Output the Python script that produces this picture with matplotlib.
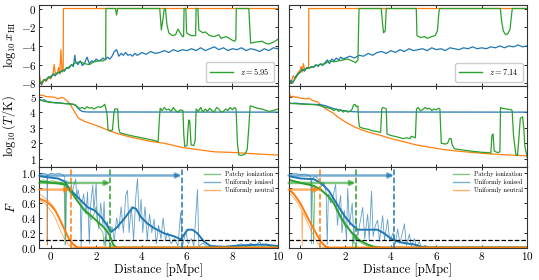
import numpy as np
import matplotlib
matplotlib.use("Agg")
import matplotlib.pyplot as plt
from matplotlib.lines import Line2D

plt.rcParams.update({
    "font.family": "serif",
    "font.serif": ["cmr10", "DejaVu Serif"],
    "mathtext.fontset": "cm",
    "axes.formatter.use_mathtext": True,
    "axes.unicode_minus": True,
})

C_PATCHY = "#2ca02c"
C_ION = "#1f77b4"
C_NEU = "#ff7f0e"

# ---------------- data: (distance [pMpc], value) ----------------
redshifts = ["5.95", "7.14"]

# log10 x_HI, left column (z = 5.95)
xhi_ion_l = [(-0.5, -7.9), (-0.4, -8.1), (-0.3, -7.6), (-0.2, -7.7), (-0.1, -7.3), (0.0, -7.4), (0.1, -7.0),
             (0.2, -7.2), (0.3, -6.8), (0.4, -6.9), (0.5, -6.6), (0.6, -6.7), (0.7, -6.3), (0.8, -6.4),
             (0.9, -6.0), (1.0, -6.2), (1.06, -5.0), (1.1, -5.7), (1.2, -6.0), (1.3, -5.6), (1.4, -6.1),
             (1.5, -5.8), (1.6, -5.2), (1.7, -5.9), (1.8, -5.6), (1.9, -5.7), (2.0, -5.4), (2.1, -5.6),
             (2.2, -5.5), (2.3, -5.3), (2.4, -5.5), (2.5, -5.2), (2.6, -5.4), (2.7, -5.1), (2.8, -4.6),
             (2.9, -4.4), (3.0, -5.1), (3.1, -4.8), (3.2, -5.0), (3.3, -4.7), (3.4, -5.0), (3.5, -4.9),
             (3.6, -5.1), (3.7, -4.8), (3.8, -5.0), (3.9, -4.9), (4.0, -4.7), (4.2, -4.9), (4.4, -4.6),
             (4.6, -4.8), (4.8, -4.7), (5.0, -4.5), (5.2, -4.7), (5.4, -4.4), (5.6, -4.6), (5.8, -4.4),
             (6.0, -4.5), (6.2, -4.3), (6.4, -4.5), (6.6, -4.2), (6.8, -4.5), (7.0, -4.3), (7.2, -4.1),
             (7.4, -4.4), (7.6, -4.2), (7.8, -4.5), (8.0, -4.3), (8.2, -4.4), (8.4, -4.2), (8.6, -4.5),
             (8.8, -4.3), (9.0, -4.4), (9.2, -4.6), (9.4, -4.3), (9.6, -4.5), (9.8, -4.2), (10.0, -4.3)]
xhi_patchy_l = [(-0.5, -8.0), (-0.3, -7.7), (-0.1, -7.4), (0.1, -7.1), (0.3, -6.9), (0.5, -6.7), (0.7, -6.4),
                (0.9, -6.1), (1.1, -5.8), (1.3, -5.7), (1.5, -5.9), (1.7, -6.0), (1.9, -5.7), (2.1, -5.6),
                (2.3, -5.6), (2.42, -5.4), (2.43, 0.0), (2.85, 0.0), (2.9, -0.7), (2.95, 0.0), (4.8, 0.0),
                (4.87, -2.3), (4.95, -1.0), (5.0, 0.0), (5.05, 0.0), (5.12, -1.8), (5.2, -2.6), (5.35, -2.9),
                (5.5, -2.8), (5.6, -2.2), (5.7, -2.6), (5.8, -3.0), (5.85, -3.0), (5.87, 0.0), (5.95, 0.0),
                (5.98, -2.6), (6.1, -2.8), (6.2, -2.9), (6.38, -2.9), (6.40, 0.0), (6.48, 0.0), (6.52, -2.3),
                (6.7, -2.6), (6.8, -2.5), (7.0, -2.9), (7.2, -3.0), (7.4, -2.8), (7.5, -3.2), (7.7, -3.0),
                (7.8, -3.1), (8.0, -3.4), (8.1, -3.5), (8.15, -3.3), (8.17, 0.0), (8.72, 0.0), (8.8, -3.7),
                (9.0, -3.6), (9.3, -3.5), (9.45, -3.7), (9.6, -3.8), (9.8, -3.6), (10.0, -3.3)]
xhi_neutral_l = [(-0.5, -7.0), (-0.45, -7.8), (-0.4, -8.2), (-0.3, -7.6), (-0.2, -7.8), (-0.1, -7.4),
                 (0.0, -7.5), (0.1, -7.1), (0.15, -6.0), (0.2, -6.9), (0.3, -7.0), (0.35, -6.3), (0.4, -7.0),
                 (0.45, -4.4), (0.5, -6.8), (0.55, -6.5), (0.56, 0.0), (10.0, 0.0)]

# log10 x_HI, right column (z = 7.14)
xhi_ion_r = [(-0.5, -8.0), (-0.4, -7.7), (-0.3, -7.9), (-0.2, -7.3), (-0.1, -7.0), (0.0, -6.8), (0.1, -6.5),
             (0.2, -6.7), (0.3, -6.3), (0.4, -6.4), (0.5, -6.2), (0.6, -6.3), (0.7, -6.0), (0.8, -6.2),
             (0.9, -5.9), (1.0, -6.1), (1.1, -5.8), (1.2, -5.5), (1.3, -5.9), (1.4, -5.4), (1.5, -5.6),
             (1.6, -5.3), (1.7, -5.5), (1.8, -5.2), (1.9, -5.4), (2.0, -5.3), (2.2, -5.1), (2.4, -5.3),
             (2.6, -5.0), (2.8, -5.1), (3.0, -4.8), (3.2, -5.0), (3.4, -4.7), (3.6, -4.6), (3.8, -4.8),
             (4.0, -4.5), (4.2, -4.7), (4.4, -4.4), (4.6, -4.6), (4.8, -4.3), (5.0, -4.5), (5.2, -4.4),
             (5.4, -4.3), (5.6, -4.5), (5.8, -4.2), (6.0, -4.4), (6.2, -4.3), (6.4, -4.5), (6.6, -4.2),
             (6.8, -4.3), (7.0, -4.4), (7.2, -4.2), (7.4, -4.3), (7.6, -4.1), (7.8, -4.3), (8.0, -4.2),
             (8.2, -4.3), (8.4, -4.1), (8.6, -4.2), (8.8, -4.0), (9.0, -4.2), (9.2, -4.0), (9.4, -4.1),
             (9.6, -3.9), (9.8, -4.1), (10.0, -4.0)]
xhi_patchy_r = [(-0.5, -8.1), (-0.3, -7.8), (-0.1, -7.1), (0.1, -6.6), (0.3, -6.4), (0.5, -6.3), (0.7, -6.1),
                (0.9, -6.0), (1.1, -5.9), (1.3, -5.6), (1.5, -5.7), (1.7, -5.6), (1.9, -5.5), (2.1, -5.4),
                (2.3, -5.6), (2.45, -5.8), (2.55, -5.5), (2.6, 0.0), (3.58, 0.0), (3.63, -1.5), (3.68, -2.6),
                (3.75, -2.4), (3.8, 0.0), (5.12, 0.0), (5.15, -2.9), (5.3, -3.1), (5.5, -3.0), (5.6, -3.2),
                (5.8, -3.0), (5.95, -2.9), (6.05, -2.4), (6.12, -0.3), (6.16, 0.0), (8.82, 0.0), (8.87, -1.2),
                (8.95, -2.4), (9.05, -2.8), (9.15, -2.7), (9.25, -2.2), (9.32, -0.5), (9.35, 0.0), (10.0, 0.0)]
xhi_neutral_r = [(-0.5, -8.1), (-0.45, -7.6), (-0.4, -8.0), (-0.3, -7.2), (-0.2, -7.5), (-0.1, -6.9),
                 (0.0, -6.6), (0.05, -6.2), (0.1, -6.8), (0.15, -5.9), (0.2, -6.5), (0.3, -6.4), (0.38, -6.3),
                 (0.39, 0.0), (10.0, 0.0)]

# log10 (T/K), left column
temp_ion_l = [(-0.5, 4.85), (-0.4, 4.75), (-0.3, 4.8), (-0.2, 4.7), (0.0, 4.65), (0.2, 4.6), (0.4, 4.6),
              (0.6, 4.55), (0.8, 4.55), (1.0, 4.5), (1.1, 4.42), (1.2, 4.25), (1.3, 4.12), (1.4, 4.04),
              (1.6, 4.01), (10.0, 4.0)]
temp_neutral_l = [(-0.5, 5.05), (-0.4, 5.1), (-0.2, 5.0), (0.0, 4.98), (0.2, 4.95), (0.3, 4.85), (0.4, 4.9),
                  (0.5, 4.95), (0.6, 4.88), (0.7, 4.75), (0.8, 4.6), (0.9, 4.4), (1.0, 4.15), (1.1, 3.9),
                  (1.2, 3.65), (1.3, 3.55), (1.5, 3.4), (1.8, 3.25), (2.16, 3.06), (2.5, 2.85), (2.89, 2.64),
                  (3.5, 2.4), (4.36, 2.13), (5.0, 2.0), (5.82, 1.72), (6.84, 1.52), (7.2, 1.45), (8.01, 1.41),
                  (9.0, 1.32), (10.0, 1.24)]
temp_patchy_l = [(-0.5, 4.8), (-0.3, 4.7), (0.0, 4.62), (0.4, 4.58), (0.8, 4.52), (1.0, 4.5), (1.1, 4.45),
                 (1.2, 4.3), (1.3, 4.25), (1.4, 4.3), (1.5, 4.2), (1.6, 4.35), (1.7, 4.25), (1.8, 4.3),
                 (1.9, 4.2), (2.0, 4.28), (2.1, 4.35), (2.2, 4.3), (2.3, 4.4), (2.38, 4.5), (2.43, 4.2),
                 (2.48, 3.9), (2.52, 2.9), (2.6, 2.8), (2.72, 2.85), (2.78, 3.9), (2.82, 4.2), (2.95, 4.2),
                 (2.99, 3.0), (3.04, 2.7), (3.1, 2.65), (3.5, 2.5), (4.0, 2.35), (4.5, 2.2), (4.73, 2.1),
                 (4.78, 3.5), (4.82, 4.25), (4.9, 4.1), (5.0, 4.3), (5.1, 4.15), (5.2, 4.2), (5.3, 4.05),
                 (5.4, 4.3), (5.5, 4.1), (5.6, 4.0), (5.7, 4.15), (5.82, 4.1), (5.86, 2.5), (5.9, 1.8),
                 (6.0, 1.85), (6.05, 3.0), (6.08, 3.5), (6.12, 3.4), (6.18, 1.9), (6.3, 1.85), (6.36, 2.2),
                 (6.40, 4.2), (6.5, 4.05), (6.6, 4.3), (6.7, 4.0), (6.8, 4.2), (6.9, 4.05), (7.0, 4.25),
                 (7.1, 4.1), (7.2, 4.0), (7.3, 4.3), (7.4, 4.2), (7.5, 4.0), (7.6, 4.05), (7.7, 4.2),
                 (7.8, 4.1), (7.9, 4.3), (8.0, 4.15), (8.1, 4.3), (8.16, 4.2), (8.22, 2.0), (8.28, 1.25),
                 (8.4, 1.22), (8.55, 1.3), (8.65, 1.6), (8.72, 3.0), (8.78, 4.4), (8.9, 4.35), (9.1, 4.25),
                 (9.3, 4.2), (9.5, 4.1), (9.6, 4.05), (9.8, 4.1), (10.0, 4.2)]

# log10 (T/K), right column
temp_ion_r = [(-0.5, 4.6), (-0.4, 4.55), (-0.2, 4.58), (0.0, 4.55), (0.3, 4.52), (0.6, 4.5), (0.9, 4.48),
              (1.1, 4.42), (1.3, 4.32), (1.5, 4.22), (1.7, 4.15), (1.9, 4.1), (2.1, 4.06), (2.3, 4.03),
              (2.6, 4.01), (10.0, 4.0)]
temp_neutral_r = [(-0.5, 5.05), (-0.45, 5.1), (-0.4, 4.98), (-0.3, 5.02), (-0.2, 4.95), (-0.1, 4.97),
                  (0.0, 4.9), (0.12, 4.88), (0.3, 4.85), (0.4, 4.9), (0.56, 4.74), (0.7, 4.7), (0.8, 4.62),
                  (1.0, 4.37), (1.2, 4.15), (1.44, 3.96), (1.7, 3.65), (2.03, 3.34), (2.4, 3.05), (2.77, 2.83),
                  (3.1, 2.68), (3.51, 2.52), (4.0, 2.3), (4.54, 2.11), (5.1, 1.9), (5.72, 1.74), (6.3, 1.6),
                  (6.9, 1.5), (7.5, 1.42), (8.23, 1.33), (9.0, 1.26), (10.0, 1.19)]
temp_patchy_r = [(-0.5, 4.58), (-0.3, 4.55), (0.0, 4.52), (0.3, 4.5), (0.6, 4.48), (0.8, 4.45), (1.0, 4.35),
                 (1.2, 4.28), (1.4, 4.2), (1.5, 4.1), (1.6, 4.2), (1.7, 4.05), (1.8, 4.15), (1.9, 4.0),
                 (2.0, 4.1), (2.1, 4.0), (2.2, 4.05), (2.3, 4.2), (2.35, 4.45), (2.42, 4.5), (2.48, 4.35),
                 (2.55, 4.4), (2.58, 3.5), (2.62, 3.05), (2.8, 2.95), (3.0, 2.9), (3.2, 2.8), (3.4, 2.75),
                 (3.55, 2.7), (3.6, 4.2), (3.65, 4.3), (3.75, 4.25), (3.8, 4.2), (3.83, 2.6), (4.0, 2.5),
                 (4.3, 2.4), (4.54, 2.3), (4.7, 2.35), (4.85, 2.3), (4.9, 2.45), (5.0, 2.4), (5.08, 2.35),
                 (5.13, 4.2), (5.2, 4.3), (5.3, 4.1), (5.4, 4.15), (5.5, 4.3), (5.6, 4.2), (5.7, 4.25),
                 (5.8, 4.1), (5.9, 4.2), (6.0, 4.15), (6.1, 4.25), (6.16, 4.2), (6.22, 2.0), (6.4, 1.95),
                 (6.5, 2.0), (6.58, 2.3), (6.65, 2.3), (6.7, 1.9), (6.8, 1.65), (7.0, 1.6), (7.5, 1.5),
                 (8.0, 1.42), (8.3, 1.4), (8.4, 1.35), (8.45, 2.5), (8.5, 2.6), (8.55, 1.5), (8.7, 1.4),
                 (8.8, 1.45), (8.83, 4.3), (8.9, 4.25), (9.1, 4.2), (9.3, 4.15), (9.34, 4.1), (9.4, 2.5),
                 (9.5, 1.3), (9.57, 1.2), (9.62, 2.0), (9.7, 3.6), (9.8, 3.7), (9.85, 3.0), (9.9, 1.8),
                 (10.0, 1.1)]

# flux F, left column: raw (thin) and smoothed (thick)
flux_ion_raw_l = [(-0.5, 0.99), (-0.35, 1.0), (-0.2, 0.99), (-0.16, 0.98), (-0.15, 0.04), (-0.14, 0.97),
                  (0.0, 1.0), (0.2, 0.99), (0.4, 1.0), (0.55, 0.97), (0.62, 0.95), (0.66, 0.05), (0.7, 0.9),
                  (0.8, 0.86), (0.9, 0.88), (0.95, 0.72), (1.0, 0.82), (1.1, 0.92), (1.15, 0.65), (1.2, 0.78),
                  (1.3, 0.62), (1.34, 0.0), (1.38, 0.6), (1.45, 0.72), (1.55, 0.45), (1.62, 0.75), (1.7, 0.05),
                  (1.75, 0.55), (1.85, 0.84), (1.9, 0.5), (2.0, 0.86), (2.05, 0.4), (2.12, 0.25), (2.2, 0.6),
                  (2.3, 0.3), (2.35, 0.62), (2.42, 0.02), (2.5, 0.35), (2.6, 0.15), (2.7, 0.28), (2.8, 0.1),
                  (2.9, 0.4), (3.0, 0.25), (3.1, 0.55), (3.2, 0.2), (3.3, 0.7), (3.38, 0.77), (3.45, 0.2),
                  (3.55, 0.55), (3.65, 0.1), (3.75, 0.7), (3.82, 0.93), (3.9, 0.35), (3.98, 0.65), (4.05, 0.2),
                  (4.15, 0.55), (4.25, 0.1), (4.35, 0.45), (4.45, 0.2), (4.55, 0.38), (4.65, 0.05), (4.75, 0.3),
                  (4.85, 0.12), (4.95, 0.4), (5.05, 0.1), (5.15, 0.2), (5.3, 0.05), (5.45, 0.12), (5.6, 0.02),
                  (5.72, 0.47), (5.8, 0.02), (5.95, 0.22), (6.05, 0.05), (6.2, 0.12), (6.3, 0.02), (6.46, 0.78),
                  (6.52, 0.02), (6.7, 0.06), (6.9, 0.01), (7.2, 0.02), (7.6, 0.0), (8.0, 0.02), (8.4, 0.05),
                  (8.6, 0.01), (8.8, 0.06), (9.0, 0.02), (9.2, 0.08), (9.3, 0.01), (9.5, 0.05), (9.7, 0.0),
                  (10.0, 0.0)]
flux_ion_l = [(-0.48, 0.96), (0.03, 0.94), (0.32, 0.93), (0.61, 0.89), (0.83, 0.79), (1.05, 0.72), (1.34, 0.63),
              (1.64, 0.54), (1.93, 0.5), (2.22, 0.41), (2.44, 0.32), (2.66, 0.21), (2.88, 0.26), (3.24, 0.39),
              (3.61, 0.54), (3.76, 0.52), (3.97, 0.41), (4.27, 0.32), (4.56, 0.26), (5.0, 0.19), (5.44, 0.15),
              (5.73, 0.11), (6.02, 0.24), (6.24, 0.24), (6.46, 0.19), (6.75, 0.08), (7.04, 0.02), (7.63, 0.01),
              (8.5, 0.03), (9.38, 0.04), (10.0, 0.02)]
flux_patchy_raw_l = [(-0.5, 0.9), (-0.3, 0.91), (-0.1, 0.89), (0.1, 0.9), (0.3, 0.88), (0.5, 0.87), (0.6, 0.85),
                     (0.63, 0.03), (0.66, 0.82), (0.8, 0.76), (0.9, 0.72), (1.0, 0.7), (1.1, 0.66), (1.2, 0.62),
                     (1.3, 0.58), (1.4, 0.52), (1.5, 0.48), (1.6, 0.45), (1.7, 0.42), (1.8, 0.38), (1.9, 0.45),
                     (2.0, 0.55), (2.05, 0.35), (2.1, 0.3), (2.2, 0.25), (2.3, 0.2), (2.35, 0.02), (2.4, 0.15),
                     (2.5, 0.1), (2.6, 0.06), (2.7, 0.02), (2.8, 0.0), (10.0, 0.0)]
flux_patchy_l = [(-0.5, 0.89), (-0.2, 0.88), (0.1, 0.87), (0.4, 0.86), (0.7, 0.84), (0.8, 0.79), (0.92, 0.74),
                 (1.1, 0.66), (1.29, 0.58), (1.5, 0.5), (1.7, 0.45), (2.02, 0.36), (2.31, 0.28), (2.5, 0.21),
                 (2.6, 0.16), (2.68, 0.1), (2.75, 0.04), (2.85, 0.01), (2.95, 0.0), (10.0, 0.0)]
flux_neutral_raw_l = [(-0.5, 0.72), (-0.3, 0.68), (-0.1, 0.63), (0.1, 0.56), (0.3, 0.45), (0.5, 0.3), (0.7, 0.17),
                      (0.9, 0.06), (1.05, 0.01), (1.2, 0.0), (10.0, 0.0)]
flux_neutral_raw2_l = [(-0.5, 0.64), (-0.2, 0.58), (-0.16, 0.55), (-0.15, 0.03), (-0.14, 0.55), (0.0, 0.5),
                       (0.2, 0.4), (0.4, 0.25), (0.6, 0.12), (0.8, 0.03), (0.95, 0.0), (10.0, 0.0)]
flux_neutral_l = [(-0.5, 0.66), (-0.2, 0.62), (0.0, 0.57), (0.2, 0.5), (0.4, 0.38), (0.6, 0.25), (0.8, 0.12),
                  (1.0, 0.04), (1.2, 0.0), (10.0, 0.0)]

# flux F, right column
flux_ion_raw_r = [(-0.5, 1.0), (-0.35, 0.99), (-0.2, 1.0), (0.0, 0.98), (0.2, 0.99), (0.4, 0.97), (0.48, 0.95),
                  (0.5, 0.05), (0.52, 0.93), (0.7, 0.96), (0.85, 0.9), (0.95, 0.82), (1.05, 0.88), (1.15, 0.75),
                  (1.2, 0.04), (1.25, 0.72), (1.35, 0.6), (1.45, 0.68), (1.57, 0.85), (1.65, 0.3), (1.72, 0.55),
                  (1.79, 0.7), (1.85, 0.2), (1.95, 0.5), (2.05, 0.1), (2.1, 0.8), (2.18, 0.3), (2.3, 0.6),
                  (2.38, 0.05), (2.45, 0.4), (2.55, 0.15), (2.65, 0.35), (2.76, 0.54), (2.85, 0.12), (2.98, 0.45),
                  (3.05, 0.1), (3.15, 0.76), (3.22, 0.15), (3.32, 0.3), (3.42, 0.37), (3.5, 0.08), (3.64, 0.43),
                  (3.72, 0.1), (3.86, 0.38), (3.95, 0.08), (4.1, 0.2), (4.2, 0.05), (4.3, 0.25), (4.4, 0.05),
                  (4.6, 0.32), (4.68, 0.03), (4.82, 0.18), (4.9, 0.02), (5.04, 0.12), (5.12, 0.01), (5.26, 0.08),
                  (5.35, 0.0), (5.5, 0.03), (5.7, 0.0), (10.0, 0.0)]
flux_ion_r = [(-0.48, 0.96), (0.03, 0.93), (0.62, 0.92), (0.91, 0.87), (1.06, 0.83), (1.28, 0.76), (1.5, 0.65),
              (1.72, 0.54), (1.95, 0.43), (2.24, 0.32), (2.53, 0.24), (2.98, 0.24), (3.42, 0.24), (3.71, 0.19),
              (4.01, 0.12), (4.3, 0.08), (4.6, 0.06), (5.04, 0.04), (5.34, 0.01), (5.78, 0.0), (10.0, 0.0)]
flux_patchy_raw_r = [(-0.5, 0.92), (-0.3, 0.9), (0.0, 0.88), (0.3, 0.86), (0.55, 0.84), (0.6, 0.05), (0.65, 0.82),
                     (0.9, 0.8), (1.0, 0.76), (1.15, 0.72), (1.3, 0.7), (1.4, 0.65), (1.5, 0.62), (1.6, 0.5),
                     (1.7, 0.45), (1.8, 0.38), (1.9, 0.35), (2.0, 0.28), (2.1, 0.3), (2.2, 0.22), (2.3, 0.18),
                     (2.32, 0.01), (2.36, 0.15), (2.5, 0.1), (2.7, 0.06), (2.9, 0.03), (3.1, 0.01), (3.3, 0.0),
                     (10.0, 0.0)]
flux_patchy_r = [(-0.48, 0.91), (0.03, 0.87), (0.62, 0.83), (0.91, 0.78), (1.21, 0.7), (1.5, 0.59), (1.8, 0.41),
                 (2.02, 0.3), (2.31, 0.19), (2.61, 0.1), (2.98, 0.04), (3.27, 0.01), (3.57, 0.0), (10.0, 0.0)]
flux_neutral_raw_r = [(-0.5, 0.8), (-0.3, 0.74), (-0.1, 0.66), (0.1, 0.55), (0.3, 0.44), (0.5, 0.32), (0.7, 0.2),
                      (0.9, 0.1), (1.1, 0.03), (1.3, 0.0), (10.0, 0.0)]
flux_neutral_raw2_r = [(-0.5, 0.74), (-0.3, 0.68), (-0.1, 0.6), (0.05, 0.52), (0.08, 0.5), (0.1, 0.02),
                       (0.12, 0.48), (0.3, 0.36), (0.5, 0.22), (0.7, 0.1), (0.85, 0.03), (1.0, 0.0), (10.0, 0.0)]
flux_neutral_r = [(-0.48, 0.78), (-0.27, 0.72), (0.03, 0.59), (0.32, 0.41), (0.62, 0.24), (0.91, 0.08),
                  (1.13, 0.01), (1.3, 0.0), (10.0, 0.0)]

# arrows: (start F, end distance) per model; dashed verticals sit at the arrow ends
arrow_heights = {"ion": 0.97, "patchy": 0.87, "neutral": 0.78}
arrow_ends_l = {"ion": 5.76, "patchy": 2.63, "neutral": 0.88}
arrow_ends_r = {"ion": 4.14, "patchy": 2.45, "neutral": 0.89}
flux_threshold = 0.1


def xy(pairs):
    a = np.array(pairs, dtype=float)
    return a[:, 0], a[:, 1]


fig, axes = plt.subplots(3, 2, sharex=True, sharey="row", figsize=(5.39, 2.8), dpi=100,
                         gridspec_kw=dict(hspace=0.0, wspace=0.045))
fig.subplots_adjust(left=0.073, right=0.978, top=0.983, bottom=0.116)

columns = [
    dict(xhi=(xhi_patchy_l, xhi_ion_l, xhi_neutral_l),
         temp=(temp_patchy_l, temp_ion_l, temp_neutral_l),
         raw=(flux_patchy_raw_l, flux_ion_raw_l, flux_neutral_raw_l, flux_neutral_raw2_l),
         smooth=(flux_patchy_l, flux_ion_l, flux_neutral_l), ends=arrow_ends_l),
    dict(xhi=(xhi_patchy_r, xhi_ion_r, xhi_neutral_r),
         temp=(temp_patchy_r, temp_ion_r, temp_neutral_r),
         raw=(flux_patchy_raw_r, flux_ion_raw_r, flux_neutral_raw_r, flux_neutral_raw2_r),
         smooth=(flux_patchy_r, flux_ion_r, flux_neutral_r), ends=arrow_ends_r),
]

for j, col in enumerate(columns):
    ax_x, ax_t, ax_f = axes[0, j], axes[1, j], axes[2, j]

    # neutral fraction
    for pairs, c in zip(col["xhi"][::-1], (C_NEU, C_ION, C_PATCHY)):
        ax_x.plot(*xy(pairs), color=c, lw=0.9)
    ax_x.legend([Line2D([], [], color=C_PATCHY, lw=1)], [r"$z = %s$" % redshifts[j]],
                loc="lower right", fontsize=6, handlelength=2.8, borderpad=0.5, framealpha=1,
                edgecolor="#cccccc")

    # temperature
    for pairs, c in zip((col["temp"][2], col["temp"][1], col["temp"][0]), (C_NEU, C_ION, C_PATCHY)):
        ax_t.plot(*xy(pairs), color=c, lw=0.9)

    # flux: raw (thin) then smoothed (thick)
    p_raw, i_raw, n_raw, n_raw2 = col["raw"]
    ax_f.plot(*xy(i_raw), color=C_ION, lw=0.6, alpha=0.7)
    ax_f.plot(*xy(p_raw), color=C_PATCHY, lw=0.6, alpha=0.7)
    ax_f.plot(*xy(n_raw), color=C_NEU, lw=0.6, alpha=0.7)
    ax_f.plot(*xy(n_raw2), color=C_NEU, lw=0.6, alpha=0.7)
    p_s, i_s, n_s = col["smooth"]
    ax_f.plot(*xy(i_s), color=C_ION, lw=1.4)
    ax_f.plot(*xy(p_s), color=C_PATCHY, lw=1.4)
    ax_f.plot(*xy(n_s), color=C_NEU, lw=1.4)

    for key, c in (("ion", C_ION), ("patchy", C_PATCHY), ("neutral", C_NEU)):
        xe = col["ends"][key]
        ax_f.annotate("", xy=(xe, arrow_heights[key]), xytext=(-0.5, arrow_heights[key]),
                      arrowprops=dict(arrowstyle="-|>", color=c, lw=1.8, alpha=0.6,
                                      mutation_scale=7, shrinkA=0, shrinkB=0))
        ax_f.axvline(xe, color=c, ls="--", lw=1.1)
    ax_f.axhline(flux_threshold, color="black", ls="--", lw=0.9)

    handles = [Line2D([], [], color=C_PATCHY, lw=1, alpha=0.6),
               Line2D([], [], color=C_ION, lw=1, alpha=0.6),
               Line2D([], [], color=C_NEU, lw=1, alpha=0.6)]
    ax_f.legend(handles, ["Patchy ionization", "Uniformly ionised", "Uniformly neutral"],
                loc="upper right", fontsize=4.5, frameon=False, handlelength=2.5,
                borderaxespad=0.3, labelspacing=0.35)

    ax_f.set_xlabel("Distance [pMpc]", fontsize=9, labelpad=1)

for ax in axes.flat:
    ax.set_xlim(-0.5, 10)
    ax.tick_params(direction="in", top=True, right=True, length=2.5, width=0.6, labelsize=8, pad=2)
    for s in ax.spines.values():
        s.set_linewidth(0.8)
        s.set_color("#333333")

axes[0, 0].set_ylim(-8.25, 0.4)
axes[0, 0].set_yticks([0, -2, -4, -6, -8])
axes[1, 0].set_ylim(0.5, 5.7)
axes[1, 0].set_yticks([1, 2, 3, 4, 5])
axes[2, 0].set_ylim(0.0, 1.09)
axes[2, 0].set_yticks([0.0, 0.2, 0.4, 0.6, 0.8, 1.0])
axes[2, 0].set_xticks([0, 2, 4, 6, 8, 10])

axes[0, 0].set_ylabel(r"$\log_{10}x_{\rm HI}$", fontsize=9, labelpad=2)
axes[1, 0].set_ylabel(r"$\log_{10}(T/{\rm K})$", fontsize=9, labelpad=2)
axes[2, 0].set_ylabel(r"$F$", fontsize=9, labelpad=2)
fig.align_ylabels(axes[:, 0])

fig.savefig("out.png", dpi=100)
